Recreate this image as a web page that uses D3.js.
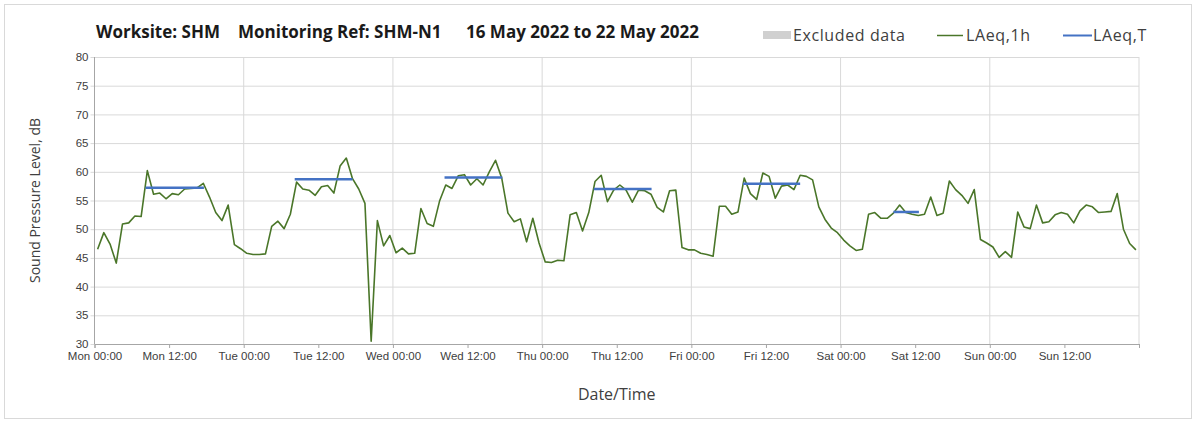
<!DOCTYPE html>
<html>
<head>
<meta charset="utf-8">
<script src="https://cdn.jsdelivr.net/npm/d3@7"></script>
<style>
  html, body { margin: 0; padding: 0; background: #fff; }
  svg { display: block; font-family: "Open Sans", sans-serif; }
</style>
</head>
<body>
<svg id="chart" width="1197" height="423"></svg>
<script>
// hourly LAeq,1h, Mon 00:00 .. Sun 23:00 (one value per hour)
const laeq1h = [
  46.5, 49.4, 47.4, 44.1, 50.9, 51.1, 52.3, 52.2, 60.2, 56.1, 56.3, 55.3,
  56.2, 56.0, 57.0, 57.1, 57.2, 58.0, 55.6, 52.9, 51.5, 54.2, 47.3, 46.6,
  45.8, 45.6, 45.6, 45.7, 50.5, 51.4, 50.1, 52.6, 58.2, 57.0, 56.8, 55.9,
  57.4, 57.6, 56.3, 61.0, 62.4, 58.8, 57.0, 54.5, 30.5, 51.5, 47.1, 48.9,
  45.9, 46.7, 45.7, 45.8, 53.6, 51.0, 50.5, 54.9, 57.7, 57.1, 59.3, 59.5,
  57.7, 58.8, 57.7, 60.0, 62.0, 58.9, 52.8, 51.3, 51.8, 47.8, 51.9, 47.6,
  44.3, 44.2, 44.6, 44.5, 52.5, 52.9, 49.7, 52.9, 58.3, 59.4, 54.8, 56.8,
  57.7, 56.8, 54.7, 56.8, 56.7, 56.1, 53.8, 53.0, 56.7, 56.8, 46.8, 46.4,
  46.4, 45.8, 45.6, 45.3, 54.0, 54.0, 52.6, 53.0, 58.9, 56.2, 55.2, 59.8,
  59.2, 55.4, 57.5, 57.7, 56.9, 59.4, 59.2, 58.6, 53.9, 51.7, 50.2, 49.4,
  48.1, 47.1, 46.3, 46.5, 52.6, 52.9, 51.9, 51.9, 52.8, 54.2, 52.9, 52.6,
  52.4, 52.6, 55.6, 52.4, 52.8, 58.4, 56.9, 55.9, 54.5, 56.9, 48.2, 47.6,
  46.9, 45.1, 46.1, 45.1, 53.0, 50.4, 50.1, 54.2, 51.1, 51.3, 52.5, 52.9,
  52.6, 51.1, 53.2, 54.2, 53.9, 52.9, 53.0, 53.1, 56.2, 50.0, 47.5, 46.4
];

// LAeq,T periods (hours from Mon 00:00)
const periodStart = [8.2, 32.2, 56.3, 80.3, 104.3, 128.5];
const periodEnd   = [17.6, 41.5, 65.6, 89.6, 113.5, 132.6];
const periodLevel = [57.2, 58.7, 59.0, 57.0, 57.9, 53.0];

const dayNames = ["Mon", "Tue", "Wed", "Thu", "Fri", "Sat", "Sun"];
const tickHours = d3.range(0, 168, 12);
const yTicks = d3.range(30, 81, 5);

const titleParts = ["Worksite: SHM", "Monitoring Ref: SHM-N1", "16 May 2022 to 22 May 2022"];

const svg = d3.select("#chart");
const W = 1197, H = 423;
const margin = { top: 57, right: 58, bottom: 79, left: 94.5 };

const x = d3.scaleLinear().domain([0, 168]).range([margin.left, W - margin.right]);
const y = d3.scaleLinear().domain([30, 80]).range([H - margin.bottom, margin.top]);

// outer frame
svg.append("rect")
  .attr("x", 4.5).attr("y", 4.5)
  .attr("width", W - 10).attr("height", H - 9)
  .attr("fill", "none").attr("stroke", "#d9d9d9");

// horizontal grid + y ticks
const yAxis = d3.axisLeft(y).tickValues(yTicks).tickSize(-(x.range()[1] - x.range()[0])).tickPadding(6);
const gy = svg.append("g").attr("transform", `translate(${margin.left},0)`).call(yAxis);
gy.select(".domain").remove();
gy.selectAll(".tick line").attr("stroke", "#d9d9d9").attr("x1", -4);
gy.selectAll(".tick text").attr("fill", "#404040").style("font-size", "11.5px");

// vertical grid at each midnight
svg.append("g").selectAll("line")
  .data(d3.range(24, 169, 24))
  .join("line")
  .attr("x1", d => x(d)).attr("x2", d => x(d))
  .attr("y1", y(80)).attr("y2", y(30))
  .attr("stroke", "#d9d9d9");

// left axis line
svg.append("line")
  .attr("x1", x(0)).attr("x2", x(0))
  .attr("y1", y(80)).attr("y2", y(30))
  .attr("stroke", "#a6a6a6");

// x axis
const xAxis = d3.axisBottom(x)
  .tickValues(tickHours.concat([168]))
  .tickSize(4)
  .tickPadding(4)
  .tickFormat(h => h >= 168 ? "" : `${dayNames[Math.floor(h / 24)]} ${h % 24 === 0 ? "00" : "12"}:00`);
const gx = svg.append("g").attr("transform", `translate(0,${y(30)})`).call(xAxis);
gx.select(".domain").attr("stroke", "#a6a6a6");
gx.selectAll(".tick line").attr("stroke", "#a6a6a6");
gx.selectAll(".tick text").attr("fill", "#404040").style("font-size", "11.5px");

// LAeq,1h line
const line = d3.line()
  .x((d, i) => x(i + 0.5))
  .y(d => y(d));

svg.append("path")
  .datum(laeq1h)
  .attr("fill", "none")
  .attr("stroke", "#4a7629")
  .attr("stroke-width", 1.6)
  .attr("stroke-linejoin", "round")
  .attr("d", line);

// LAeq,T segments
svg.append("g").selectAll("line")
  .data(periodLevel)
  .join("line")
  .attr("x1", (d, i) => x(periodStart[i]))
  .attr("x2", (d, i) => x(periodEnd[i]))
  .attr("y1", d => y(d)).attr("y2", d => y(d))
  .attr("stroke", "#4472c4")
  .attr("stroke-width", 2.5);

// title
const titleX = [96, 238, 466];
svg.append("g").selectAll("text")
  .data(titleParts)
  .join("text")
  .attr("x", (d, i) => titleX[i])
  .attr("y", 38)
  .attr("fill", "#1a1a1a")
  .style("font-size", "17px")
  .style("font-weight", "bold")
  .text(d => d);

// legend
const lg = svg.append("g").style("font-size", "16px").style("letter-spacing", "0.6px").attr("fill", "#404040");
lg.append("rect").attr("x", 763).attr("y", 31).attr("width", 28).attr("height", 8).attr("fill", "#d0d0d0");
lg.append("text").attr("x", 793).attr("y", 41).text("Excluded data");
lg.append("line").attr("x1", 937).attr("x2", 963).attr("y1", 35.5).attr("y2", 35.5)
  .attr("stroke", "#4a7629").attr("stroke-width", 1.5);
lg.append("text").attr("x", 966).attr("y", 41).text("LAeq,1h");
lg.append("line").attr("x1", 1063).attr("x2", 1092).attr("y1", 35.5).attr("y2", 35.5)
  .attr("stroke", "#4472c4").attr("stroke-width", 2);
lg.append("text").attr("x", 1093).attr("y", 41).text("LAeq,T");

// axis titles
svg.append("text")
  .attr("x", (x(0) + x(168)) / 2).attr("y", 400)
  .attr("text-anchor", "middle")
  .attr("fill", "#404040")
  .style("font-size", "16px")
  .text("Date/Time");

svg.append("text")
  .attr("transform", "rotate(-90)")
  .attr("x", -(y(30) + y(80)) / 2).attr("y", 40)
  .attr("text-anchor", "middle")
  .attr("fill", "#404040")
  .style("font-size", "14px")
  .text("Sound Pressure Level, dB");
</script>
</body>
</html>
